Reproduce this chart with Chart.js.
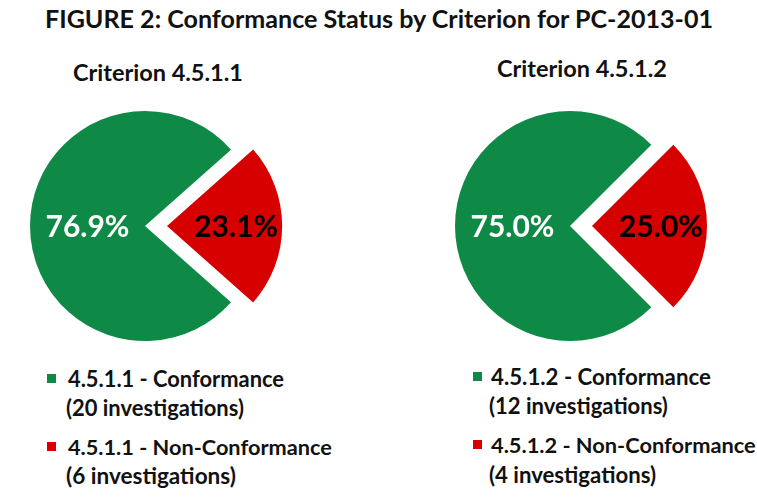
<!DOCTYPE html>
<html>
<head>
<meta charset="utf-8">
<script src="https://cdn.jsdelivr.net/npm/chart.js@4.4.1/dist/chart.umd.min.js"></script>
<style>
  html, body { margin:0; padding:0; width:757px; height:498px; overflow:hidden; background:#fff; }
  body { position:relative; font-family: Lato, "Open Sans", sans-serif; font-weight:700; color:#111; }
  .abs { position:absolute; white-space:nowrap; }
  canvas { position:absolute; }
  .sq { position:absolute; width:9px; height:9px; }
</style>
</head>
<body>
<div id="title" class="abs" style="top:2px; left:45px; line-height:32px;"></div>
<div id="sub1" class="abs" style="top:58px; left:73px; line-height:28px;"></div>
<div id="sub2" class="abs" style="top:54px; left:497px; line-height:28px;"></div>
<div style="position:absolute; left:0; top:96px; width:290px; height:260px;"><canvas id="c1" width="290" height="260" style="left:0;top:0"></canvas></div>
<div style="position:absolute; left:420px; top:96px; width:300px; height:260px;"><canvas id="c2" width="300" height="260" style="left:0;top:0"></canvas></div>
<div id="leg1"></div>
<div id="leg2"></div>
<script>
// ---- data ----
const figureTitle = "FIGURE 2: Conformance Status by Criterion for PC-2013-01";
const chartTitles = ["Criterion 4.5.1.1", "Criterion 4.5.1.2"];
const categories = ["Conformance", "Non-Conformance"];
const criterion1Counts = [20, 6];
const criterion2Counts = [12, 4];
const criterion1Pct = [76.9, 23.1];
const criterion2Pct = [75.0, 25.0];
const sliceColors = ["#0E8A46", "#D60000"];
const labelColors = ["#ffffff", "#000000"];

// ---- helper: scale font size so the text hits a target width ----
function fitWidth(el, target) {
  el.style.display = 'inline-block';
  el.style.fontSize = '20px';
  const w = el.getBoundingClientRect().width;
  el.style.fontSize = (20 * target / w).toFixed(2) + 'px';
}
document.getElementById('title').textContent = figureTitle;
document.getElementById('sub1').textContent = chartTitles[0];
document.getElementById('sub2').textContent = chartTitles[1];
fitWidth(document.getElementById('title'), 668);
fitWidth(document.getElementById('sub1'), 170);
fitWidth(document.getElementById('sub2'), 170);

// legends built from data
function buildLegend(containerId, code, counts, sqX, textX, ys, widths) {
  const c = document.getElementById(containerId);
  counts.forEach((n, i) => {
    const sq = document.createElement('div');
    sq.className = 'sq';
    sq.style.left = sqX + 'px';
    sq.style.top = (ys[i][0] - 5) + 'px';
    sq.style.background = sliceColors[i];
    c.appendChild(sq);
    const l1 = document.createElement('div');
    l1.className = 'abs';
    l1.textContent = code + ' - ' + categories[i];
    l1.style.left = textX + 'px';
    l1.style.top = (ys[i][0] - 14) + 'px';
    l1.style.lineHeight = '28px';
    c.appendChild(l1);
    fitWidth(l1, widths[i][0]);
    const l2 = document.createElement('div');
    l2.className = 'abs';
    l2.textContent = '(' + n + ' investigations)';
    l2.style.left = (textX - 2) + 'px';
    l2.style.top = (ys[i][1] - 14) + 'px';
    l2.style.lineHeight = '28px';
    c.appendChild(l2);
    fitWidth(l2, widths[i][1]);
  });
}
buildLegend('leg1', '4.5.1.1', criterion1Counts, 47, 68, [[379, 408], [447, 476]], [[216, 178], [264, 170]]);
buildLegend('leg2', '4.5.1.2', criterion2Counts, 473, 491, [[377, 406], [445, 475]], [[220, 179], [265, 167]]);

// ---- percentage labels plugin ----
const pctLabels = {
  id: 'pctLabels',
  afterDatasetsDraw(chart) {
    const ctx = chart.ctx;
    const meta = chart.getDatasetMeta(0);
    const pcts = chart.data.datasets[0].pct;
    meta.data.forEach((arc, i) => {
      const p = arc.getProps(['x','y','startAngle','endAngle','outerRadius','circumference']);
      const mid = (p.startAngle + p.endAngle) / 2;
      const off = arc.options.offset || 0;
      const fix = 1 - Math.sin(Math.min(Math.PI, p.circumference || 0));
      const disp = off / 4 * (1 + fix);
      const k = i === 0 ? 0.5 : 0.6;
      const d = disp + k * p.outerRadius;
      const x = p.x + Math.cos(mid) * d;
      const y = p.y + Math.sin(mid) * d;
      ctx.save();
      ctx.font = "bold 30px Lato, 'Open Sans', sans-serif";
      ctx.fillStyle = labelColors[i];
      ctx.textAlign = 'center';
      ctx.textBaseline = 'middle';
      ctx.fillText(pcts[i].toFixed(1) + '%', x, y + 1);
      ctx.restore();
    });
  }
};

function makePie(id, pct) {
  const redDeg = pct[1] / 100 * 360;
  new Chart(document.getElementById(id), {
    type: 'pie',
    data: {
      labels: categories,
      datasets: [{
        data: pct,
        pct: pct,
        backgroundColor: sliceColors,
        borderWidth: 0,
        offset: [0, 88]
      }]
    },
    options: {
      responsive: false,
      animation: false,
      radius: 115,
      rotation: 90 + redDeg / 2,
      layout: { padding: 0 },
      plugins: { legend: { display: false }, tooltip: { enabled: false }, title: { display: false } },
      events: []
    },
    plugins: [pctLabels]
  });
}
makePie('c1', criterion1Pct);
makePie('c2', criterion2Pct);
</script>
</body>
</html>
